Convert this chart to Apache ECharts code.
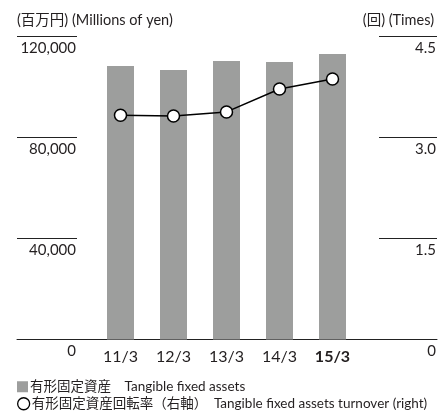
<!DOCTYPE html>
<html><head><meta charset="utf-8">
<script src="https://cdn.jsdelivr.net/npm/echarts@6/dist/echarts.min.js"></script>
<style>html,body{margin:0;padding:0;background:#fff}#c{width:448px;height:413px}</style>
</head><body><div id="c"></div>
<script>
const categories = ['11/3', '12/3', '13/3', '14/3', '15/3'];
const assets = [108300, 106700, 110300, 109900, 113100];
const turnover = [3.33, 3.32, 3.38, 3.72, 3.87];
const leftTicks = [0, 40000, 80000, 120000];
const rightTicks = [0, 1.5, 3.0, 4.5];
const barName = '有形固定資産　Tangible fixed assets';
const lineName = '有形固定資産回転率（右軸）　Tangible fixed assets turnover (right)';

const FONT = "Lato, 'Noto Sans CJK JP', sans-serif";
const TXT = '#231f20';
const legendText = {fontFamily: FONT, fontSize: 13.5, color: TXT, padding: [0, 0, 0, -3]};
const chart = echarts.init(document.getElementById('c'), null, {renderer: 'canvas'});
chart.setOption({
  animation: false,
  textStyle: {fontFamily: FONT, color: TXT},
  title: [
    {text: '(百万円) (Millions of yen)', left: 12, top: 8, textStyle: {fontFamily: FONT, fontSize: 14.5, fontWeight: 'normal', color: TXT}},
    {text: '(回) (Times)', right: 9, top: 8, textStyle: {fontFamily: FONT, fontSize: 14.5, fontWeight: 'normal', color: TXT}}
  ],
  legend: [
    {left: 12, top: 375, itemWidth: 11, itemHeight: 11, textStyle: legendText,
     data: [{name: barName, icon: 'rect'}]},
    {left: 12, top: 392, itemWidth: 12, itemHeight: 12, textStyle: legendText,
     data: [{name: lineName, icon: 'circle', itemStyle: {color: '#fff', borderColor: '#000', borderWidth: 1.3}}]}
  ],
  grid: [
    {left: 94, right: 89, top: 36.5, bottom: 73.5},
    {left: 17, right: 11, top: 36.5, bottom: 73.5}
  ],
  xAxis: [
    {type: 'category', gridIndex: 0, data: categories,
     axisLine: {show: true, lineStyle: {color: '#222', width: 1}}, axisTick: {show: false},
     axisLabel: {interval: 0, margin: 9, fontSize: 16, color: TXT, fontFamily: FONT,
       formatter: function (v, i) { return i === categories.length - 1 ? '{b|' + v + '}' : v; },
       rich: {b: {fontWeight: 'bold', fontSize: 16, color: TXT, fontFamily: FONT}}}},
    {type: 'value', gridIndex: 1, min: 0, max: 1,
     axisLine: {show: true, onZero: false, lineStyle: {color: '#222', width: 1}},
     axisTick: {show: false}, axisLabel: {show: false}, splitLine: {show: false}}
  ],
  yAxis: [
    {type: 'value', gridIndex: 0, position: 'left', offset: 17, min: 0, max: 120000, interval: 40000,
     axisLine: {show: false}, splitLine: {show: false},
     axisTick: {show: true, length: 60, lineStyle: {color: '#222', width: 1}},
     axisLabel: {margin: 1, fontSize: 15, color: TXT, fontFamily: FONT, verticalAlign: 'top', padding: [4, 0, 0, 0],
       formatter: function (v) { return leftTicks.indexOf(v) >= 0 ? v.toLocaleString('en-US') : ''; }}},
    {type: 'value', gridIndex: 0, position: 'right', offset: 20, min: 0, max: 4.5, interval: 1.5,
     axisLine: {show: false}, splitLine: {show: false},
     axisTick: {show: true, length: 58, lineStyle: {color: '#222', width: 1}},
     axisLabel: {margin: 57, align: 'right', fontSize: 15, color: TXT, fontFamily: FONT, verticalAlign: 'top', padding: [4, 0, 0, 0],
       formatter: function (v) { return rightTicks.indexOf(v) >= 0 ? (v === 0 ? '0' : v.toFixed(1)) : ''; }}},
    {type: 'value', gridIndex: 1, min: 0, max: 1, show: false}
  ],
  series: [
    {name: barName, type: 'bar', xAxisIndex: 0, yAxisIndex: 0, data: assets, barWidth: 27,
     itemStyle: {color: '#9d9e9d'}},
    {name: lineName, type: 'line', xAxisIndex: 0, yAxisIndex: 1, data: turnover,
     symbol: 'circle', symbolSize: 12, z: 5,
     lineStyle: {color: '#000', width: 1.5},
     itemStyle: {color: '#fff', borderColor: '#000', borderWidth: 1.5}}
  ]
});
</script></body></html>
